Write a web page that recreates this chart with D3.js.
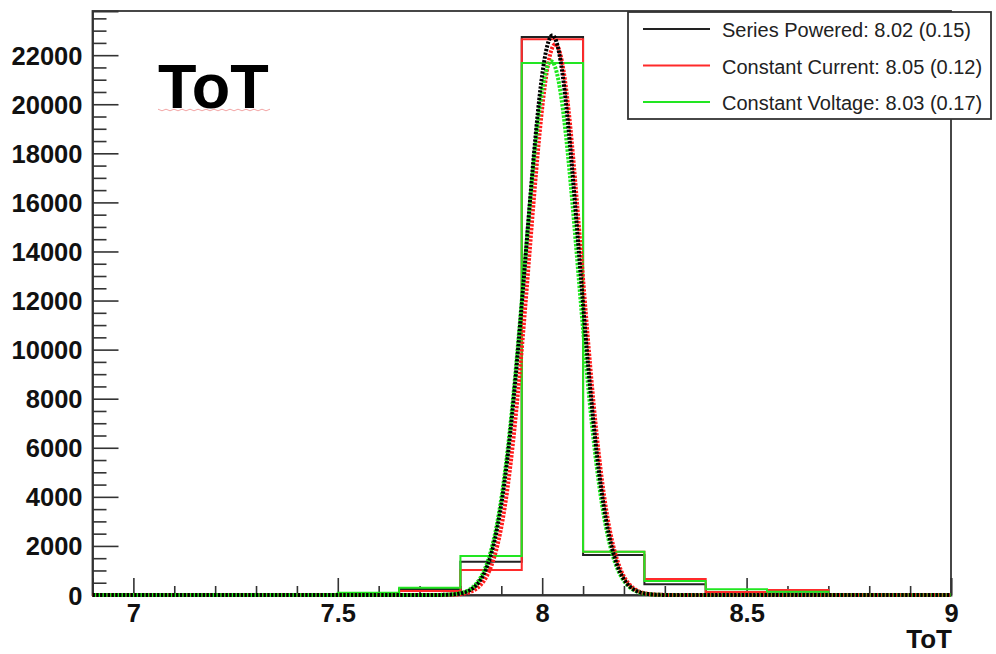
<!DOCTYPE html>
<html>
<head>
<meta charset="utf-8">
<script src="https://cdn.jsdelivr.net/npm/d3@7"></script>
<style>
  html, body { margin: 0; padding: 0; background: #fff; }
  svg { display: block; }
  text { font-family: "Liberation Sans", Arial, Helvetica, sans-serif; }
</style>
</head>
<body>
<svg id="chart" width="996" height="654"></svg>
<script>
// ToT distributions: histogram bin edges (bin width 0.15)
const binEdges = [6.9, 7.05, 7.2, 7.35, 7.5, 7.65, 7.8, 7.95, 8.1, 8.25, 8.4, 8.55, 8.7, 8.85, 9.0];

// Entries per bin for each powering scheme
const seriesPowered    = [0, 0, 0, 0, 60, 245, 1350, 22740, 1630, 440, 110, 60, 20, 10];
const constantCurrent  = [0, 0, 0, 0, 40, 165, 1020, 22650, 1760, 650, 120, 200, 25, 10];
const constantVoltage  = [0, 0, 0, 0, 95, 300, 1590, 21680, 1765, 570, 230, 130, 30, 10];

// Legend entries: name, mean and RMS
const seriesNames = ["Series Powered", "Constant Current", "Constant Voltage"];
const seriesMean  = ["8.02", "8.05", "8.03"];
const seriesRms   = ["0.15", "0.12", "0.17"];
const seriesColor = ["#222222", "#ff2a2a", "#22e622"];

// Gaussian fit parameters (constant, mean, sigma) per scheme
const fitConst = [22800, 22450, 21750];
const fitMean  = [8.025, 8.032, 8.022];
const fitSigma = [0.0655, 0.0645, 0.0660];

// Axis ticks
const xMajorTicks = [7, 7.5, 8, 8.5, 9];
const xMinorTicks = [7.1, 7.2, 7.3, 7.4, 7.6, 7.7, 7.8, 7.9, 8.1, 8.2, 8.3, 8.4, 8.6, 8.7, 8.8, 8.9];
const yMajorTicks = [0, 2000, 4000, 6000, 8000, 10000, 12000, 14000, 16000, 18000, 20000, 22000];
const xDomain = [6.9, 9.0];
const yDomain = [0, 23800];

const svg = d3.select("#chart");
const frame = { left: 92.5, right: 951, top: 11, bottom: 595 };

const x = d3.scaleLinear().domain(xDomain).range([frame.left, frame.right]);
const y = d3.scaleLinear().domain(yDomain).range([frame.bottom, frame.top]);

// y minor ticks every 500
const yMinorTicks = d3.range(500, yDomain[1], 500).filter(v => v % 2000 !== 0);

// Frame
svg.append("rect")
  .attr("x", frame.left).attr("y", frame.top)
  .attr("width", frame.right - frame.left).attr("height", frame.bottom - frame.top)
  .attr("fill", "none").attr("stroke", "#333").attr("stroke-width", 1.8);

// Y axis: ticks pointing into the frame, labels on the left
const yAxis = svg.append("g").attr("transform", `translate(${frame.left},0)`)
  .call(d3.axisLeft(y).tickValues(yMajorTicks).tickSize(-26).tickPadding(10).tickFormat(d3.format("d")));
svg.append("g").attr("transform", `translate(${frame.left},0)`)
  .call(d3.axisLeft(y).tickValues(yMinorTicks).tickSize(-14).tickFormat(""))
  .call(g => g.select(".domain").remove());

// X axis
const xAxis = svg.append("g").attr("transform", `translate(0,${frame.bottom})`)
  .call(d3.axisBottom(x).tickValues(xMajorTicks).tickSize(-17).tickPadding(0).tickFormat(d3.format("")));
svg.append("g").attr("transform", `translate(0,${frame.bottom})`)
  .call(d3.axisBottom(x).tickValues(xMinorTicks).tickSize(-9).tickFormat(""))
  .call(g => g.select(".domain").remove());

svg.selectAll(".tick line").attr("stroke", "#333").attr("stroke-width", 1.6);
svg.selectAll(".domain").attr("stroke", "#333").attr("stroke-width", 1.8);

yAxis.selectAll(".tick text")
  .attr("font-size", 25.5).attr("font-weight", "bold").attr("fill", "#111")
  .attr("dy", null).attr("y", 9);
xAxis.selectAll(".tick text")
  .attr("font-size", 25.5).attr("font-weight", "bold").attr("fill", "#111")
  .attr("dy", null).attr("y", 27);

// Histograms drawn as step outlines
const histograms = [seriesPowered, constantCurrent, constantVoltage];
histograms.forEach((counts, s) => {
  const pts = [];
  counts.forEach((c, i) => {
    pts.push([binEdges[i], c]);
    pts.push([binEdges[i + 1], c]);
  });
  svg.append("path")
    .datum(pts)
    .attr("fill", "none")
    .attr("stroke", seriesColor[s])
    .attr("stroke-width", 2)
    .attr("d", d3.line().x(d => x(d[0])).y(d => y(d[1])));
});

// Gaussian fit curves, dotted
const fitOrder = [1, 2, 0];
const sampleX = d3.range(xDomain[0], xDomain[1] + 1e-9, 0.002);
fitOrder.forEach(s => {
  const pts = sampleX.map(v => [v, fitConst[s] * Math.exp(-0.5 * ((v - fitMean[s]) / fitSigma[s]) ** 2)]);
  svg.append("path")
    .datum(pts)
    .attr("fill", "none")
    .attr("stroke", s === 0 ? "#000" : (s === 1 ? "#ff1a1a" : "#1ee81e"))
    .attr("stroke-width", 4)
    .attr("stroke-dasharray", "2.4 1.4")
    .attr("stroke-dashoffset", s * 1.2)
    .attr("d", d3.line().x(d => x(d[0])).y(d => y(d[1])));
});

// Title
svg.append("text")
  .attr("x", 158).attr("y", 108)
  .attr("font-size", 63).attr("font-weight", "bold").attr("fill", "#000")
  .text("ToT");
// wavy underline below the title
const wave = d3.range(0, 29).map(i => [158 + i * 4, 110 + (i % 2 === 0 ? -0.8 : 0.8)]);
svg.append("path")
  .attr("d", d3.line()(wave))
  .attr("fill", "none").attr("stroke", "#f3a6a6").attr("stroke-width", 1);

// X axis title
svg.append("text")
  .attr("x", 952).attr("y", 648)
  .attr("text-anchor", "end")
  .attr("font-size", 26).attr("font-weight", "bold").attr("fill", "#111")
  .text("ToT");

// Legend
const legend = { x: 628, y: 12, w: 363, h: 107 };
svg.append("rect")
  .attr("x", legend.x).attr("y", legend.y)
  .attr("width", legend.w).attr("height", legend.h)
  .attr("fill", "#fff").attr("stroke", "#333").attr("stroke-width", 1.8);
seriesNames.forEach((name, i) => {
  const cy = 29 + i * 36.5;
  svg.append("line")
    .attr("x1", 643).attr("x2", 710).attr("y1", cy).attr("y2", cy)
    .attr("stroke", seriesColor[i]).attr("stroke-width", 2);
  svg.append("text")
    .attr("x", 722).attr("y", cy + 8)
    .attr("font-size", 20).attr("fill", "#222")
    .text(`${name}: ${seriesMean[i]} (${seriesRms[i]})`);
});
</script>
</body>
</html>
